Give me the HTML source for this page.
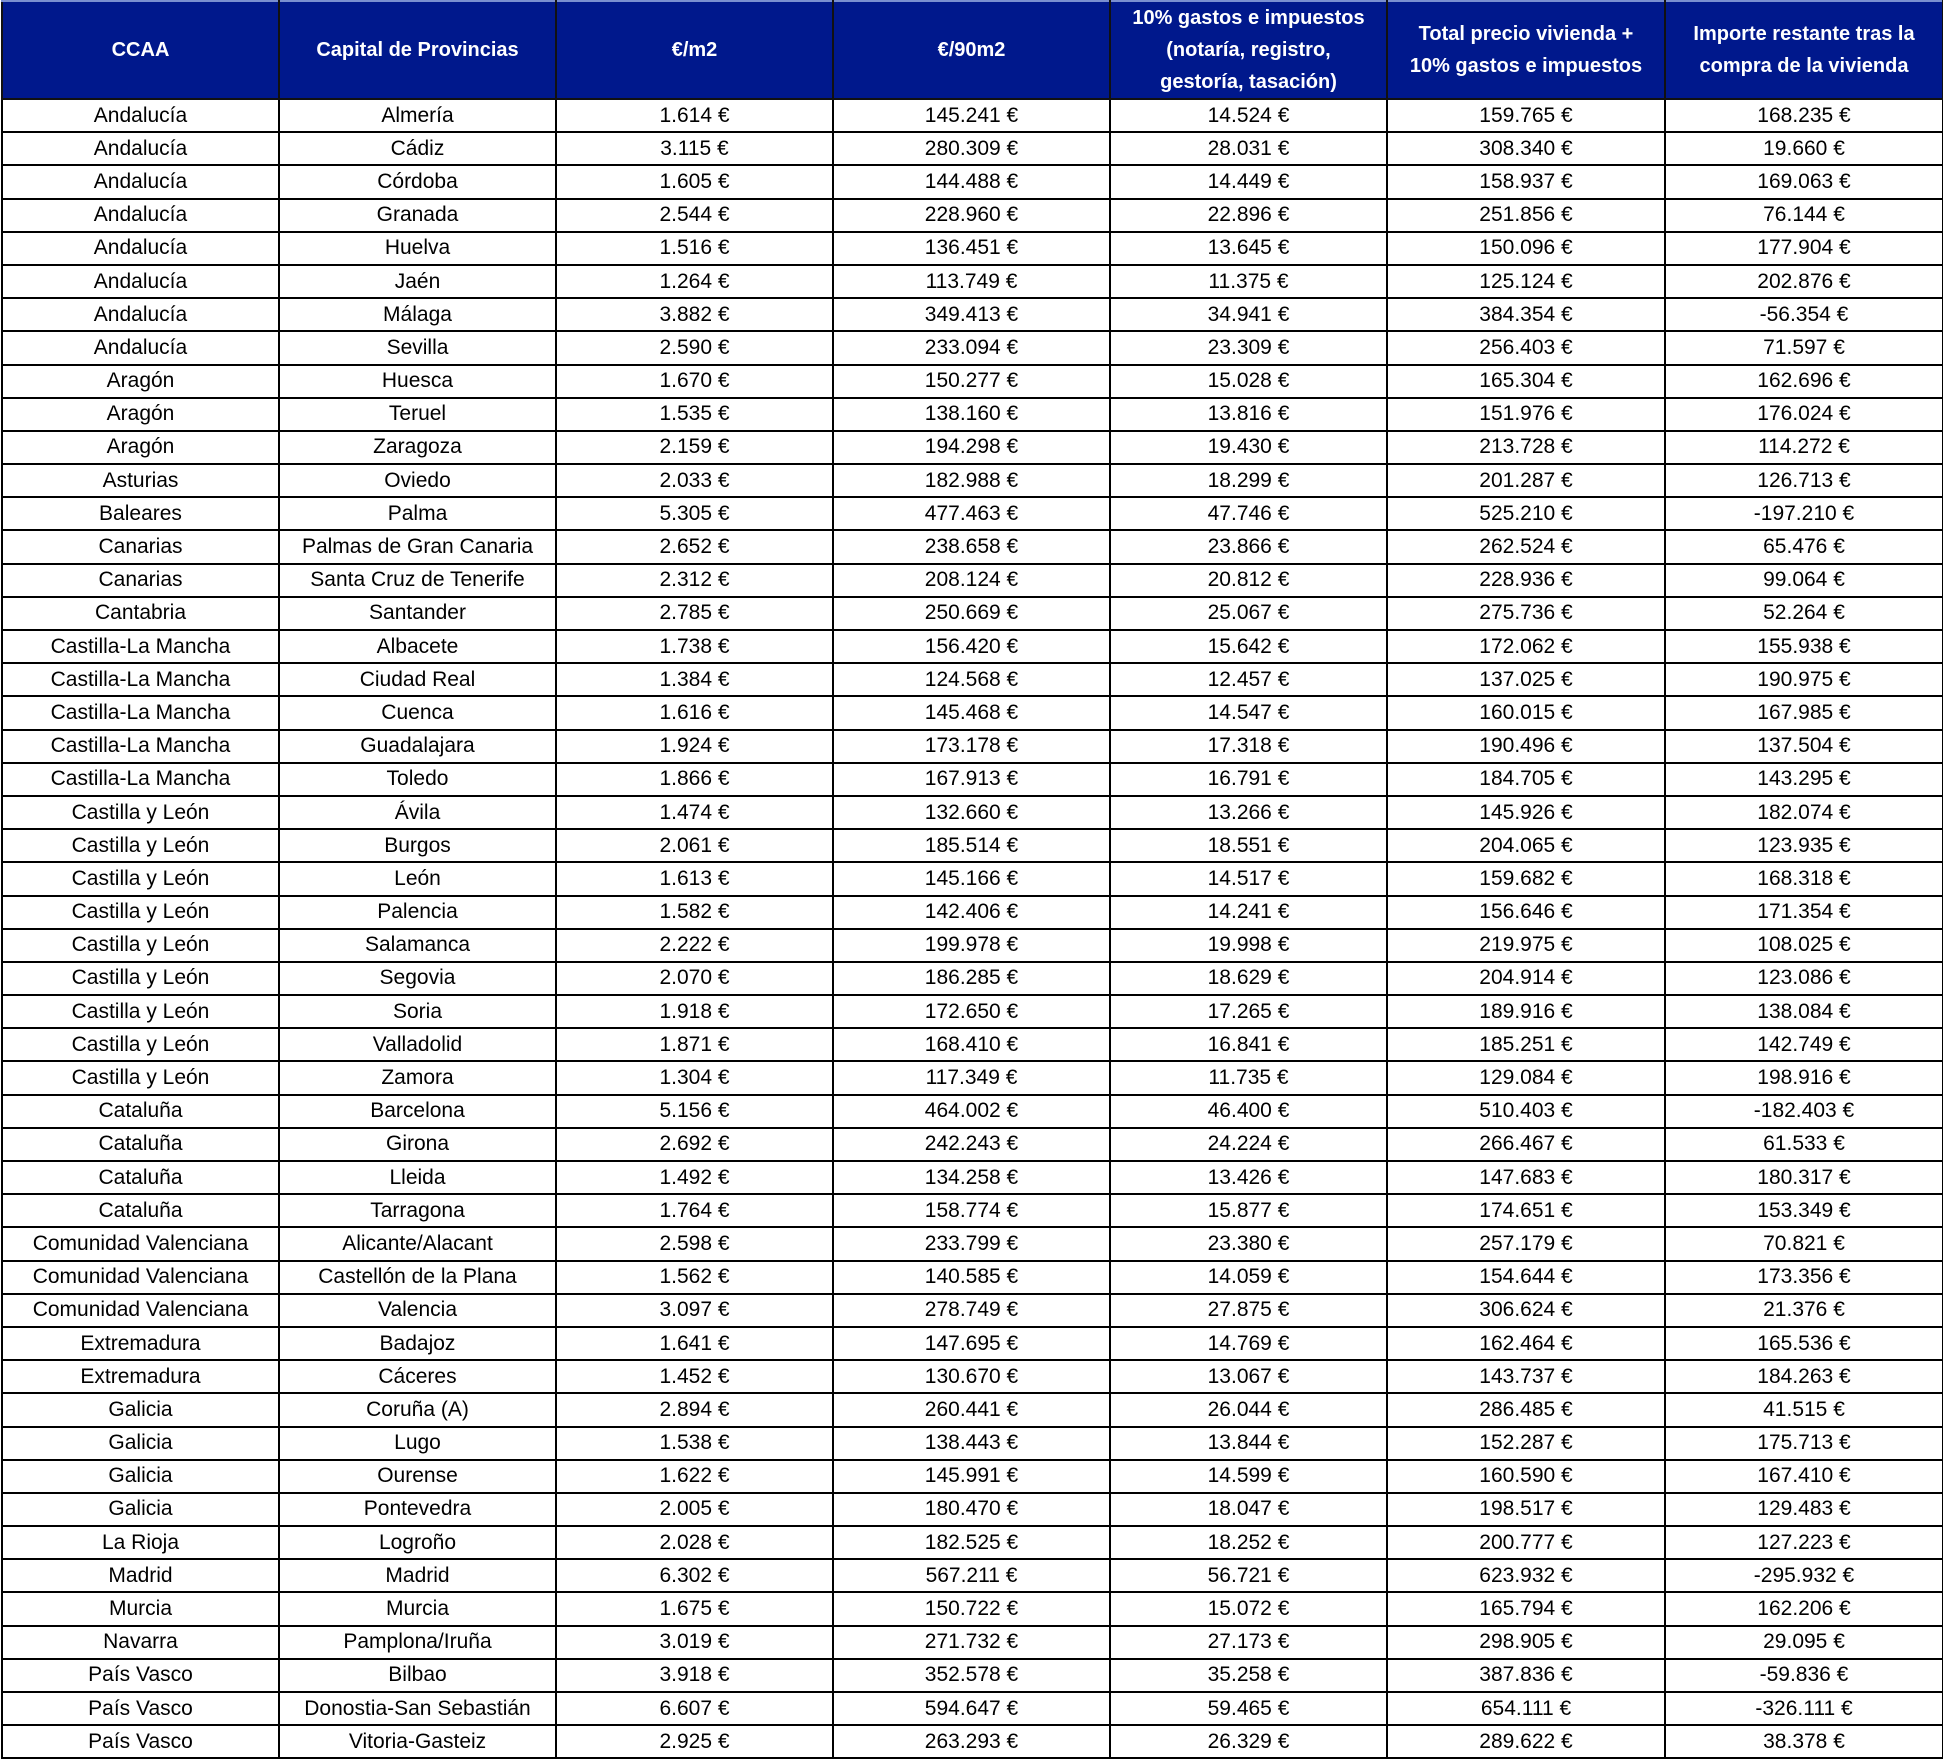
<!DOCTYPE html>
<html><head><meta charset="utf-8"><style>
html,body{margin:0;padding:0;background:#fff;width:1943px;height:1760px;overflow:hidden}
table{border-collapse:collapse;table-layout:fixed;width:1941px;position:absolute;left:1px;top:0;font-family:"Liberation Sans",sans-serif;font-size:21px;color:#000}
td,th{border:2px solid #000;text-align:center;padding:0;white-space:nowrap;overflow:hidden;line-height:22px}
th{background:#00188c;color:#fff;font-weight:bold;height:94px;line-height:32px;font-size:20px;border-color:#111;border-top-color:#7a8fd0}
td{height:31.2px}
</style></head><body>
<table>
<colgroup><col style="width:277px"><col style="width:277px"><col style="width:277px"><col style="width:277px"><col style="width:277px"><col style="width:278px"><col style="width:278px"></colgroup>
<tr><th>CCAA</th><th>Capital de Provincias</th><th>€/m2</th><th>€/90m2</th><th>10% gastos e impuestos<br>(notaría, registro,<br>gestoría, tasación)</th><th>Total precio vivienda +<br>10% gastos e impuestos</th><th>Importe restante tras la<br>compra de la vivienda</th></tr>
<tr><td>Andalucía</td><td>Almería</td><td>1.614 €</td><td>145.241 €</td><td>14.524 €</td><td>159.765 €</td><td>168.235 €</td></tr>
<tr><td>Andalucía</td><td>Cádiz</td><td>3.115 €</td><td>280.309 €</td><td>28.031 €</td><td>308.340 €</td><td>19.660 €</td></tr>
<tr><td>Andalucía</td><td>Córdoba</td><td>1.605 €</td><td>144.488 €</td><td>14.449 €</td><td>158.937 €</td><td>169.063 €</td></tr>
<tr><td>Andalucía</td><td>Granada</td><td>2.544 €</td><td>228.960 €</td><td>22.896 €</td><td>251.856 €</td><td>76.144 €</td></tr>
<tr><td>Andalucía</td><td>Huelva</td><td>1.516 €</td><td>136.451 €</td><td>13.645 €</td><td>150.096 €</td><td>177.904 €</td></tr>
<tr><td>Andalucía</td><td>Jaén</td><td>1.264 €</td><td>113.749 €</td><td>11.375 €</td><td>125.124 €</td><td>202.876 €</td></tr>
<tr><td>Andalucía</td><td>Málaga</td><td>3.882 €</td><td>349.413 €</td><td>34.941 €</td><td>384.354 €</td><td>-56.354 €</td></tr>
<tr><td>Andalucía</td><td>Sevilla</td><td>2.590 €</td><td>233.094 €</td><td>23.309 €</td><td>256.403 €</td><td>71.597 €</td></tr>
<tr><td>Aragón</td><td>Huesca</td><td>1.670 €</td><td>150.277 €</td><td>15.028 €</td><td>165.304 €</td><td>162.696 €</td></tr>
<tr><td>Aragón</td><td>Teruel</td><td>1.535 €</td><td>138.160 €</td><td>13.816 €</td><td>151.976 €</td><td>176.024 €</td></tr>
<tr><td>Aragón</td><td>Zaragoza</td><td>2.159 €</td><td>194.298 €</td><td>19.430 €</td><td>213.728 €</td><td>114.272 €</td></tr>
<tr><td>Asturias</td><td>Oviedo</td><td>2.033 €</td><td>182.988 €</td><td>18.299 €</td><td>201.287 €</td><td>126.713 €</td></tr>
<tr><td>Baleares</td><td>Palma</td><td>5.305 €</td><td>477.463 €</td><td>47.746 €</td><td>525.210 €</td><td>-197.210 €</td></tr>
<tr><td>Canarias</td><td>Palmas de Gran Canaria</td><td>2.652 €</td><td>238.658 €</td><td>23.866 €</td><td>262.524 €</td><td>65.476 €</td></tr>
<tr><td>Canarias</td><td>Santa Cruz de Tenerife</td><td>2.312 €</td><td>208.124 €</td><td>20.812 €</td><td>228.936 €</td><td>99.064 €</td></tr>
<tr><td>Cantabria</td><td>Santander</td><td>2.785 €</td><td>250.669 €</td><td>25.067 €</td><td>275.736 €</td><td>52.264 €</td></tr>
<tr><td>Castilla-La Mancha</td><td>Albacete</td><td>1.738 €</td><td>156.420 €</td><td>15.642 €</td><td>172.062 €</td><td>155.938 €</td></tr>
<tr><td>Castilla-La Mancha</td><td>Ciudad Real</td><td>1.384 €</td><td>124.568 €</td><td>12.457 €</td><td>137.025 €</td><td>190.975 €</td></tr>
<tr><td>Castilla-La Mancha</td><td>Cuenca</td><td>1.616 €</td><td>145.468 €</td><td>14.547 €</td><td>160.015 €</td><td>167.985 €</td></tr>
<tr><td>Castilla-La Mancha</td><td>Guadalajara</td><td>1.924 €</td><td>173.178 €</td><td>17.318 €</td><td>190.496 €</td><td>137.504 €</td></tr>
<tr><td>Castilla-La Mancha</td><td>Toledo</td><td>1.866 €</td><td>167.913 €</td><td>16.791 €</td><td>184.705 €</td><td>143.295 €</td></tr>
<tr><td>Castilla y León</td><td>Ávila</td><td>1.474 €</td><td>132.660 €</td><td>13.266 €</td><td>145.926 €</td><td>182.074 €</td></tr>
<tr><td>Castilla y León</td><td>Burgos</td><td>2.061 €</td><td>185.514 €</td><td>18.551 €</td><td>204.065 €</td><td>123.935 €</td></tr>
<tr><td>Castilla y León</td><td>León</td><td>1.613 €</td><td>145.166 €</td><td>14.517 €</td><td>159.682 €</td><td>168.318 €</td></tr>
<tr><td>Castilla y León</td><td>Palencia</td><td>1.582 €</td><td>142.406 €</td><td>14.241 €</td><td>156.646 €</td><td>171.354 €</td></tr>
<tr><td>Castilla y León</td><td>Salamanca</td><td>2.222 €</td><td>199.978 €</td><td>19.998 €</td><td>219.975 €</td><td>108.025 €</td></tr>
<tr><td>Castilla y León</td><td>Segovia</td><td>2.070 €</td><td>186.285 €</td><td>18.629 €</td><td>204.914 €</td><td>123.086 €</td></tr>
<tr><td>Castilla y León</td><td>Soria</td><td>1.918 €</td><td>172.650 €</td><td>17.265 €</td><td>189.916 €</td><td>138.084 €</td></tr>
<tr><td>Castilla y León</td><td>Valladolid</td><td>1.871 €</td><td>168.410 €</td><td>16.841 €</td><td>185.251 €</td><td>142.749 €</td></tr>
<tr><td>Castilla y León</td><td>Zamora</td><td>1.304 €</td><td>117.349 €</td><td>11.735 €</td><td>129.084 €</td><td>198.916 €</td></tr>
<tr><td>Cataluña</td><td>Barcelona</td><td>5.156 €</td><td>464.002 €</td><td>46.400 €</td><td>510.403 €</td><td>-182.403 €</td></tr>
<tr><td>Cataluña</td><td>Girona</td><td>2.692 €</td><td>242.243 €</td><td>24.224 €</td><td>266.467 €</td><td>61.533 €</td></tr>
<tr><td>Cataluña</td><td>Lleida</td><td>1.492 €</td><td>134.258 €</td><td>13.426 €</td><td>147.683 €</td><td>180.317 €</td></tr>
<tr><td>Cataluña</td><td>Tarragona</td><td>1.764 €</td><td>158.774 €</td><td>15.877 €</td><td>174.651 €</td><td>153.349 €</td></tr>
<tr><td>Comunidad Valenciana</td><td>Alicante/Alacant</td><td>2.598 €</td><td>233.799 €</td><td>23.380 €</td><td>257.179 €</td><td>70.821 €</td></tr>
<tr><td>Comunidad Valenciana</td><td>Castellón de la Plana</td><td>1.562 €</td><td>140.585 €</td><td>14.059 €</td><td>154.644 €</td><td>173.356 €</td></tr>
<tr><td>Comunidad Valenciana</td><td>Valencia</td><td>3.097 €</td><td>278.749 €</td><td>27.875 €</td><td>306.624 €</td><td>21.376 €</td></tr>
<tr><td>Extremadura</td><td>Badajoz</td><td>1.641 €</td><td>147.695 €</td><td>14.769 €</td><td>162.464 €</td><td>165.536 €</td></tr>
<tr><td>Extremadura</td><td>Cáceres</td><td>1.452 €</td><td>130.670 €</td><td>13.067 €</td><td>143.737 €</td><td>184.263 €</td></tr>
<tr><td>Galicia</td><td>Coruña (A)</td><td>2.894 €</td><td>260.441 €</td><td>26.044 €</td><td>286.485 €</td><td>41.515 €</td></tr>
<tr><td>Galicia</td><td>Lugo</td><td>1.538 €</td><td>138.443 €</td><td>13.844 €</td><td>152.287 €</td><td>175.713 €</td></tr>
<tr><td>Galicia</td><td>Ourense</td><td>1.622 €</td><td>145.991 €</td><td>14.599 €</td><td>160.590 €</td><td>167.410 €</td></tr>
<tr><td>Galicia</td><td>Pontevedra</td><td>2.005 €</td><td>180.470 €</td><td>18.047 €</td><td>198.517 €</td><td>129.483 €</td></tr>
<tr><td>La Rioja</td><td>Logroño</td><td>2.028 €</td><td>182.525 €</td><td>18.252 €</td><td>200.777 €</td><td>127.223 €</td></tr>
<tr><td>Madrid</td><td>Madrid</td><td>6.302 €</td><td>567.211 €</td><td>56.721 €</td><td>623.932 €</td><td>-295.932 €</td></tr>
<tr><td>Murcia</td><td>Murcia</td><td>1.675 €</td><td>150.722 €</td><td>15.072 €</td><td>165.794 €</td><td>162.206 €</td></tr>
<tr><td>Navarra</td><td>Pamplona/Iruña</td><td>3.019 €</td><td>271.732 €</td><td>27.173 €</td><td>298.905 €</td><td>29.095 €</td></tr>
<tr><td>País Vasco</td><td>Bilbao</td><td>3.918 €</td><td>352.578 €</td><td>35.258 €</td><td>387.836 €</td><td>-59.836 €</td></tr>
<tr><td>País Vasco</td><td>Donostia-San Sebastián</td><td>6.607 €</td><td>594.647 €</td><td>59.465 €</td><td>654.111 €</td><td>-326.111 €</td></tr>
<tr><td>País Vasco</td><td>Vitoria-Gasteiz</td><td>2.925 €</td><td>263.293 €</td><td>26.329 €</td><td>289.622 €</td><td>38.378 €</td></tr>
</table>
</body></html>
